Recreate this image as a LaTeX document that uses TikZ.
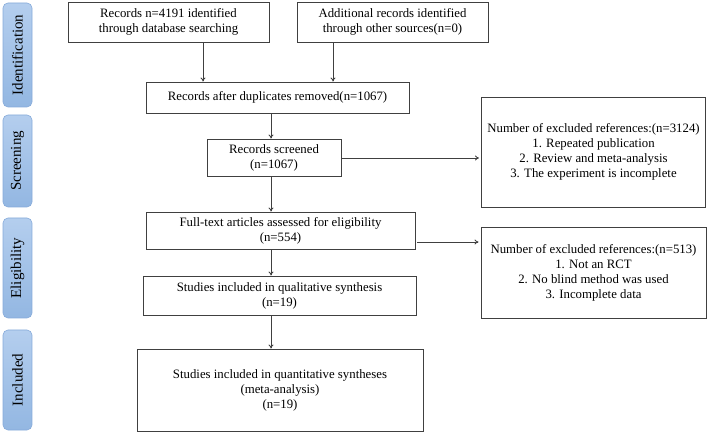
\documentclass[tikz,border=0pt]{standalone}
\usepackage{fontspec}
\setmainfont{Liberation Serif}
\usetikzlibrary{arrows.meta}
\definecolor{lineg}{HTML}{404040}
\definecolor{sideL}{HTML}{B4CEEE}
\definecolor{sideR}{HTML}{93B7E2}
\definecolor{sideB}{HTML}{86AADA}
\tikzset{
  box/.style={draw=lineg, line width=0.9pt, align=center, inner sep=1pt,
    font=\fontsize{12.8}{15}\selectfont, text=black},
  side/.style={draw=sideB, line width=0.6pt, rounded corners=5pt, top color=sideL, bottom color=sideR,
    minimum height=29pt, inner sep=1pt, rotate=90, font=\fontsize{15}{17}\selectfont, text=black},
  arr/.style={draw=lineg, line width=0.8pt, -{To[length=4pt,width=5pt]}},
  x=1pt, y=1pt
}
\begin{document}
\begin{tikzpicture}
\useasboundingbox (0,0) rectangle (708,433);
% side labels
\node[side, minimum width=104pt] (sid) at (17.5,378) {Identification};
\node[side, minimum width=92pt] (ssc) at (17.5,272) {Screening};
\node[side, minimum width=100pt] (sel) at (17.5,165) {Eligibility};
\node[side, minimum width=100pt] (sin) at (17.5,53) {Included};
% boxes
\node[box, minimum width=201pt, minimum height=40pt] (b1) at (168.5,411) {Records n=4191 identified\\through database searching};
\node[box, minimum width=191pt, minimum height=40pt] (b2) at (392.5,411) {Additional records identified\\through other sources(n=0)};
\node[box, minimum width=263pt, minimum height=31pt] (b3) at (277.5,335.5) {Records after duplicates removed(n=1067)};
\node[box, minimum width=134pt, minimum height=37pt] (b4) at (274,275.5) {Records screened\\(n=1067)};
\node[box, minimum width=224pt, minimum height=110pt] (b5) at (593.5,281) {Number of excluded references:(n=3124)\\1. Repeated publication\\2. Review and meta-analysis\\3. The experiment is incomplete};
\node[box, minimum width=269pt, minimum height=37pt] (b6) at (280.5,202.5) {Full-text articles assessed for eligibility\\(n=554)};
\node[box, minimum width=225pt, minimum height=91pt] (b7) at (593.5,160.5) {Number of excluded references:(n=513)\\1. Not an RCT\\2. No blind method was used\\3. Incomplete data};
\node[box, minimum width=273pt, minimum height=39pt] (b8) at (279.5,137.5) {Studies included in qualitative synthesis\\(n=19)};
\node[box, minimum width=286pt, minimum height=82pt] (b9) at (280,43) {Studies included in quantitative syntheses\\(meta-analysis)\\(n=19)};
% guide coordinates
\coordinate (xa) at (203,0);
\coordinate (xb) at (333,0);
\coordinate (xc) at (271,0);
\coordinate (ya) at (0,275);
\coordinate (yb) at (0,191);
% connectors
\draw[arr] (b1.south -| xa) -- (b3.north -| xa);
\draw[arr] (b2.south -| xb) -- (b3.north -| xb);
\draw[arr] (b3.south -| xc) -- (b4.north -| xc);
\draw[arr] (b4.south -| xc) -- (b6.north -| xc);
\draw[arr] (b6.south -| xc) -- (b8.north -| xc);
\draw[arr] (b8.south -| xc) -- (b9.north -| xc);
\draw[arr] (b4.east |- ya) -- ([xshift=-2pt]b5.west |- ya);
\draw[arr] ([xshift=2pt]b6.east |- yb) -- ([xshift=-2pt]b7.west |- yb);
\end{tikzpicture}
\end{document}
